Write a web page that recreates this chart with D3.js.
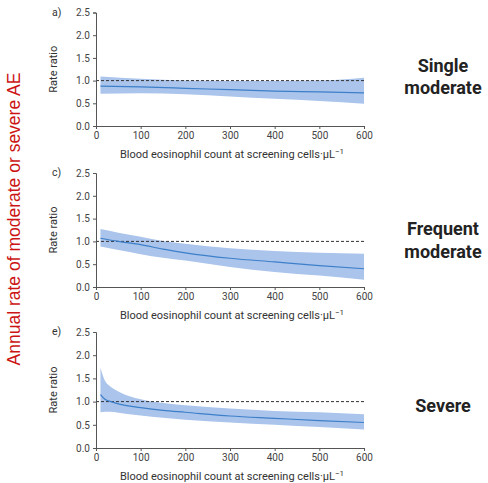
<!DOCTYPE html>
<html>
<head>
    <script src="https://d3js.org/d3.v7.min.js" charset="utf-8"></script>
    <style>
        body { margin: 0; background: white; }
        .tick text { font-family: Roboto, sans-serif; font-size: 10px; fill: #444; }
    </style>
</head>
<body>
    <script>
        // eosinophil counts where the curves were read
        var xsA = [10, 100, 200, 300, 400, 500, 600];
        var lineA = [0.88, 0.86, 0.83, 0.80, 0.77, 0.75, 0.73];
        var lowA = [0.71, 0.72, 0.70, 0.65, 0.60, 0.55, 0.49];
        var highA = [1.09, 1.04, 1.00, 0.99, 0.99, 1.00, 1.065];

        var xsC = [10, 50, 100, 150, 200, 300, 400, 500, 600];
        var lineC = [1.07, 1.00, 0.93, 0.83, 0.75, 0.63, 0.55, 0.47, 0.40];
        var lowC = [0.89, 0.81, 0.72, 0.64, 0.58, 0.44, 0.33, 0.25, 0.16];
        var highC = [1.27, 1.19, 1.10, 1.01, 0.95, 0.85, 0.79, 0.75, 0.73];

        var xsE = [10, 20, 30, 50, 100, 150, 200, 300, 400, 500, 600];
        var lineE = [1.15, 1.05, 1.01, 0.95, 0.87, 0.81, 0.77, 0.69, 0.64, 0.59, 0.55];
        var lowE = [0.77, 0.78, 0.78, 0.76, 0.70, 0.65, 0.61, 0.55, 0.50, 0.45, 0.40];
        var highE = [1.73, 1.45, 1.34, 1.22, 1.05, 0.97, 0.92, 0.85, 0.80, 0.77, 0.73];

        var xTicks = [0, 100, 200, 300, 400, 500, 600];
        var yTicks = [0, 0.5, 1.0, 1.5, 2.0, 2.5];
        var panelLetters = ["a)", "c)", "e)"];
        var rowTitles = [["Single", "moderate"], ["Frequent", "moderate"], ["Severe"]];
        var xLabel = "Blood eosinophil count at screening cells\u00b7\u00b5L";
        var yLabel = "Rate ratio";
        var sideLabel = "Annual rate of moderate or severe AE";

        var panels = [
            { xs: xsA, line: lineA, low: lowA, high: highA, top: 12.5, bottom: 126, titleY: 71.5 },
            { xs: xsC, line: lineC, low: lowC, high: highC, top: 173, bottom: 287, titleY: 235 },
            { xs: xsE, line: lineE, low: lowE, high: highE, top: 332, bottom: 448, titleY: 411.5 }
        ];

        var svg = d3.select("body")
            .append("svg")
            .attr("width", 488)
            .attr("height", 483)
            .style("display", "block");

        var x = d3.scaleLinear().domain([0, 600]).range([96, 364]);

        panels.forEach(function (p, i) {
            var y = d3.scaleLinear().domain([0, 2.5]).range([p.bottom, p.top]);
            var pts = p.xs.map(function (v, j) {
                return { x: v, m: p.line[j], lo: p.low[j], hi: p.high[j] };
            });
            var g = svg.append("g");

            g.append("path")
                .datum(pts)
                .attr("d", d3.area()
                    .curve(d3.curveMonotoneX)
                    .x(function (d) { return x(d.x); })
                    .y0(function (d) { return y(d.lo); })
                    .y1(function (d) { return y(d.hi); }))
                .style("fill", "#aac4ec");

            g.append("line")
                .attr("x1", x(0)).attr("x2", x(600))
                .attr("y1", y(1)).attr("y2", y(1))
                .style("stroke", "#333")
                .style("stroke-width", 1)
                .style("stroke-dasharray", "3,2");

            g.append("path")
                .datum(pts)
                .attr("d", d3.line()
                    .curve(d3.curveMonotoneX)
                    .x(function (d) { return x(d.x); })
                    .y(function (d) { return y(d.m); }))
                .style("fill", "none")
                .style("stroke", "#3d7fc9")
                .style("stroke-width", 1.2);

            g.append("g")
                .attr("transform", "translate(0," + p.bottom + ")")
                .call(d3.axisBottom(x).tickValues(xTicks).tickSize(3).tickPadding(3));
            g.append("g")
                .attr("transform", "translate(" + x(0) + ",0)")
                .call(d3.axisLeft(y).tickValues(yTicks).tickFormat(d3.format(".1f")).tickSize(3).tickPadding(3));
            g.selectAll(".domain, .tick line").style("stroke", "#555");

            var lab = g.append("text")
                .attr("x", 232)
                .attr("y", p.bottom + 32)
                .attr("text-anchor", "middle")
                .style("font-family", "Roboto, sans-serif")
                .style("font-size", "11px")
                .style("fill", "#333")
                .text(xLabel);
            lab.append("tspan")
                .attr("dy", -4)
                .style("font-size", "8px")
                .text("\u22121");

            g.append("text")
                .attr("transform", "translate(57," + ((p.top + p.bottom) / 2) + ") rotate(-90)")
                .attr("text-anchor", "middle")
                .style("font-family", "Roboto, sans-serif")
                .style("font-size", "11px")
                .style("fill", "#333")
                .text(yLabel);

            g.append("text")
                .attr("x", 52)
                .attr("y", p.top + 3)
                .style("font-family", "Roboto, sans-serif")
                .style("font-size", "10.5px")
                .style("fill", "#333")
                .text(panelLetters[i]);

            rowTitles[i].forEach(function (t, k) {
                g.append("text")
                    .attr("x", 443)
                    .attr("y", p.titleY + k * 22.5)
                    .attr("text-anchor", "middle")
                    .style("font-family", "Roboto, sans-serif")
                    .style("font-weight", "bold")
                    .style("font-size", "18px")
                    .style("fill", "#222")
                    .text(t);
            });
        });

        svg.append("text")
            .attr("transform", "translate(20,219) rotate(-90)")
            .attr("text-anchor", "middle")
            .style("font-family", "'Liberation Sans', Arial, sans-serif")
            .style("font-size", "17.5px")
            .style("fill", "#cc1414")
            .text(sideLabel);
    </script>
</body>
</html>
